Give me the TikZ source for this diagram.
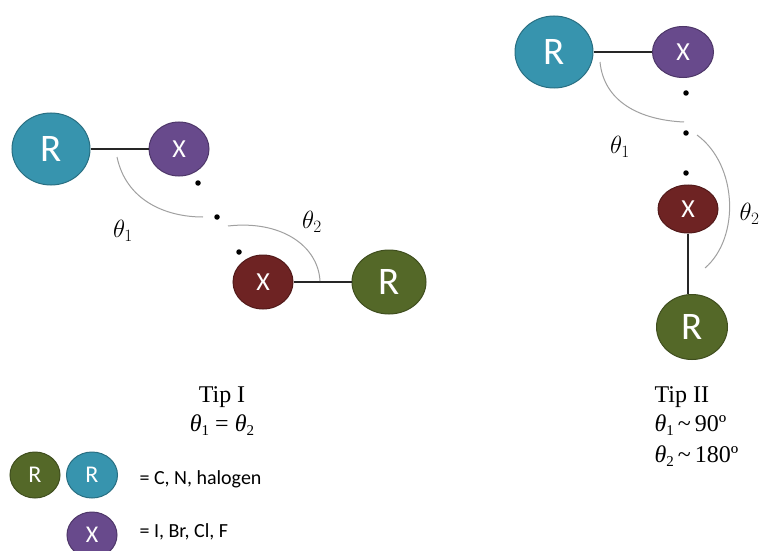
\documentclass[tikz,border=0pt]{standalone}
\usepackage{fontspec}
\setmainfont{Liberation Serif}
\setsansfont{Carlito}
\usetikzlibrary{shapes.geometric}
\definecolor{cblue}{RGB}{55,148,174}
\definecolor{cpurple}{RGB}{104,74,140}
\definecolor{cred}{RGB}{110,35,35}
\definecolor{cgreen}{RGB}{84,104,40}
\definecolor{arcgray}{RGB}{160,160,160}
\newcommand{\thx}[1]{\textit{θ}\raisebox{-0.35ex}{\fontsize{15}{15}\selectfont #1}}
\begin{document}
\begin{tikzpicture}[x=1pt,y=-1pt,
  atom/.style={ellipse, draw=#1!75!black, fill=#1, line width=1pt, inner sep=0pt, text=white},
  bigR/.style={font=\sffamily\fontsize{39}{39}\selectfont},
  bigX/.style={font=\sffamily\fontsize{26}{26}\selectfont},
  legR/.style={font=\sffamily\fontsize{24}{24}\selectfont},
  bond/.style={line width=2.2pt, black!85},
  anglearc/.style={draw=arcgray, line width=1pt},
  dot/.style={circle, fill=black, inner sep=0pt, minimum size=5.5pt},
  ang/.style={font=\fontsize{24}{28}\selectfont},
  tipcap/.style={font=\fontsize{24}{28}\selectfont},
  legtxt/.style={font=\sffamily\fontsize{20}{24}\selectfont, anchor=west}]
\useasboundingbox (0,0) rectangle (764,551);
\clip (0,0) rectangle (764,551);
\fill[white] (0,0) rectangle (764,551);

% ---- Tip I ----
\node[atom=cblue, bigR, minimum width=78pt, minimum height=72pt] (aR1) at (51,149) {R};
\node[atom=cpurple, bigX, minimum width=60pt, minimum height=54pt] (aX1) at (179,149) {X};
\node[atom=cred, bigX, minimum width=60pt, minimum height=54pt] (bX1) at (263,282) {X};
\node[atom=cgreen, bigR, minimum width=74pt, minimum height=64pt] (bR1) at (389,282) {R};
\draw[bond] (aR1) -- (aX1);
\draw[bond] (bX1) -- (bR1);
\node[dot] (d11) at (198,183) {};
\node[dot] (d12) at (217,217) {};
\node[dot] (d13) at (239,252) {};
\coordinate (a1s) at (117,157);
\coordinate (a1e) at (203,217);
\coordinate (a2s) at (228,226);
\coordinate (a2e) at (320,281);
\draw[anglearc] (a1s) .. controls (126,200) and (165,217) .. (a1e);
\draw[anglearc] (a2s) .. controls (280,220) and (318,245) .. (a2e);
\node[ang] (t11) at (123,231) {$\theta_1$};
\node[ang] (t12) at (312,222) {$\theta_2$};
\node[tipcap] (cap1) at (222,397) {Tip I};
\node[tipcap] (cap1b) at (222,425) {\thx{1} = \thx{2}};

% ---- Tip II ----
\node[atom=cblue, bigR, minimum width=78pt, minimum height=72pt] (aR2) at (554,52) {R};
\node[atom=cpurple, bigX, minimum width=61pt, minimum height=51pt] (aX2) at (683,52) {X};
\node[atom=cred, bigX, minimum width=60pt, minimum height=48pt] (bX2) at (688,209) {X};
\node[atom=cgreen, bigR, minimum width=71pt, minimum height=65pt] (bR2) at (692,327) {R};
\draw[bond] (aR2) -- (aX2);
\draw[bond] (bX2) -- (bX2 |- bR2.north);
\node[dot] (d21) at (686,93) {};
\node[dot] (d22) at (686,133) {};
\node[dot] (d23) at (686,173) {};
\coordinate (b1s) at (600,62);
\coordinate (b1e) at (684,122);
\coordinate (b2s) at (697,135);
\coordinate (b2e) at (705,268);
\draw[anglearc] (b1s) .. controls (604,102) and (640,120) .. (b1e);
\draw[anglearc] (b2s) .. controls (738,165) and (740,238) .. (b2e);
\node[ang] (t21) at (620,147) {$\theta_1$};
\node[ang, anchor=east] (t22) at (763,214) {$\theta_2$};
\node[tipcap, anchor=west] (cap2) at (651,397) {Tip II};
\node[tipcap, anchor=west] (cap2b) at (651,425) {\thx{1}\,\textasciitilde\,90º};
\node[tipcap, anchor=west] (cap2c) at (651,456) {\thx{2}\,\textasciitilde\,180º};

% ---- Legend ----
\node[atom=cgreen, legR, minimum width=50pt, minimum height=46pt] (lR1) at (35,475) {R};
\node[atom=cblue, legR, minimum width=51pt, minimum height=46pt] (lR2) at (92,475) {R};
\node[atom=cpurple, legR, minimum width=50pt, minimum height=46pt] (lX) at (92,535) {X};
\node[legtxt] (l1) at (136,479) {= C, N, halogen};
\node[legtxt] (l2) at (136,532) {= I, Br, Cl, F};
\end{tikzpicture}
\end{document}
